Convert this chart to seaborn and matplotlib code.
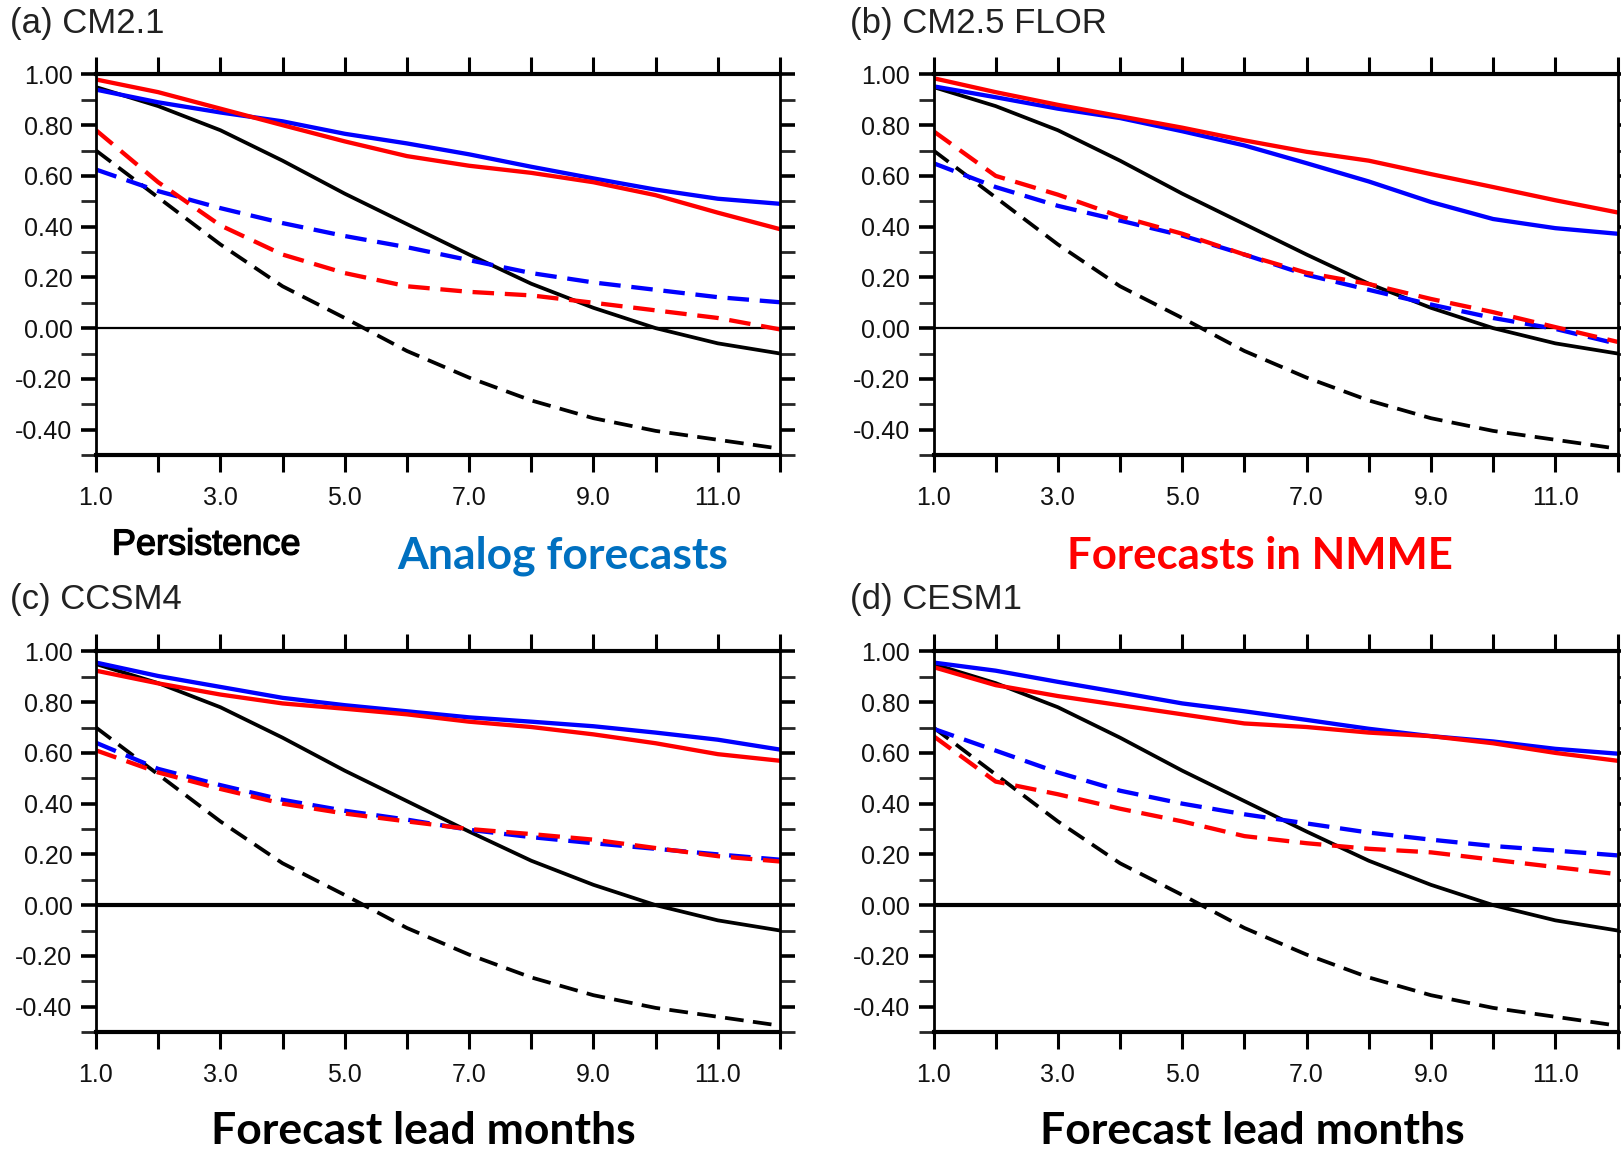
import matplotlib
matplotlib.use('Agg')
import matplotlib.pyplot as plt
import matplotlib.patheffects as pe
from matplotlib import font_manager
from matplotlib.ticker import FixedLocator
import seaborn as sns
import pandas as pd

sns.set_theme(style='ticks')

installed = {f.name for f in font_manager.fontManager.ttflist}
NARROW = 'Liberation Sans Narrow' if 'Liberation Sans Narrow' in installed else 'Liberation Sans'
plt.rcParams['font.family'] = ['Liberation Sans', 'DejaVu Sans']

# ── Data ────────────────────────────────────────────────
LEADS = list(range(1, 13))

PERSIST_SOLID = [0.95, 0.875, 0.78, 0.66, 0.53, 0.41, 0.29, 0.175, 0.08, 0.0, -0.06, -0.10]
PERSIST_DASH = [0.70, 0.515, 0.33, 0.165, 0.04, -0.09, -0.195, -0.285, -0.355, -0.405, -0.44, -0.475]

CM21_ANALOG_SOLID = [0.94, 0.89, 0.85, 0.815, 0.766, 0.728, 0.685, 0.636, 0.59, 0.546, 0.51, 0.49]
CM21_NMME_SOLID = [0.98, 0.93, 0.865, 0.80, 0.736, 0.678, 0.64, 0.612, 0.575, 0.524, 0.455, 0.39]
CM21_ANALOG_DASH = [0.625, 0.54, 0.473, 0.414, 0.363, 0.319, 0.268, 0.217, 0.18, 0.151, 0.122, 0.102]
CM21_NMME_DASH = [0.78, 0.575, 0.405, 0.29, 0.217, 0.165, 0.143, 0.129, 0.10, 0.07, 0.04, -0.005]

FLOR_ANALOG_SOLID = [0.953, 0.91, 0.865, 0.828, 0.776, 0.72, 0.65, 0.578, 0.497, 0.43, 0.394, 0.372]
FLOR_NMME_SOLID = [0.985, 0.93, 0.88, 0.835, 0.79, 0.74, 0.695, 0.66, 0.607, 0.556, 0.504, 0.456]
FLOR_ANALOG_DASH = [0.65, 0.556, 0.482, 0.424, 0.365, 0.29, 0.21, 0.151, 0.093, 0.04, -0.003, -0.062]
FLOR_NMME_DASH = [0.776, 0.60, 0.526, 0.44, 0.372, 0.29, 0.218, 0.174, 0.115, 0.063, 0.004, -0.054]

CCSM4_ANALOG_SOLID = [0.956, 0.903, 0.86, 0.817, 0.788, 0.764, 0.74, 0.723, 0.705, 0.68, 0.652, 0.613]
CCSM4_NMME_SOLID = [0.924, 0.874, 0.83, 0.795, 0.774, 0.752, 0.723, 0.702, 0.673, 0.638, 0.595, 0.569]
CCSM4_ANALOG_DASH = [0.64, 0.537, 0.473, 0.415, 0.372, 0.337, 0.297, 0.268, 0.244, 0.222, 0.20, 0.179]
CCSM4_NMME_DASH = [0.61, 0.523, 0.458, 0.40, 0.361, 0.33, 0.30, 0.28, 0.258, 0.225, 0.193, 0.172]

CESM1_ANALOG_SOLID = [0.956, 0.924, 0.88, 0.838, 0.795, 0.764, 0.73, 0.695, 0.666, 0.645, 0.616, 0.597]
CESM1_NMME_SOLID = [0.938, 0.867, 0.824, 0.788, 0.752, 0.716, 0.702, 0.68, 0.666, 0.638, 0.60, 0.569]
CESM1_ANALOG_DASH = [0.695, 0.609, 0.523, 0.451, 0.40, 0.358, 0.322, 0.286, 0.258, 0.233, 0.215, 0.196]
CESM1_NMME_DASH = [0.666, 0.487, 0.437, 0.38, 0.33, 0.272, 0.244, 0.222, 0.208, 0.179, 0.15, 0.122]

PANEL_TITLES = ['(a) CM2.1', '(b) CM2.5 FLOR', '(c) CCSM4', '(d) CESM1']
PANEL_DATA = [
    (CM21_ANALOG_SOLID, CM21_NMME_SOLID, CM21_ANALOG_DASH, CM21_NMME_DASH),
    (FLOR_ANALOG_SOLID, FLOR_NMME_SOLID, FLOR_ANALOG_DASH, FLOR_NMME_DASH),
    (CCSM4_ANALOG_SOLID, CCSM4_NMME_SOLID, CCSM4_ANALOG_DASH, CCSM4_NMME_DASH),
    (CESM1_ANALOG_SOLID, CESM1_NMME_SOLID, CESM1_ANALOG_DASH, CESM1_NMME_DASH),
]
X_LABELS = ['1.0', '', '3.0', '', '5.0', '', '7.0', '', '9.0', '', '11.0', '']
Y_MAJOR = [-0.4, -0.2, 0.0, 0.2, 0.4, 0.6, 0.8, 1.0]
Y_MINOR = [-0.5, -0.3, -0.1, 0.1, 0.3, 0.5, 0.7, 0.9]

# ── Layout ──────────────────────────────────────────────
W, H = 1621, 1151
fig = plt.figure(figsize=(W / 100, H / 100), dpi=100)

ax_left = [96 / W, 933.5 / W]
ax_bottom = [1 - 455 / H, 1 - 1032 / H]
ax_w, ax_h = 684 / W, 380.6 / H

DASH = (0, (5, 2.5))
BIG_FONT = ['Lato', 'Open Sans', 'DejaVu Sans']


def draw_panel(ax, series, zero_lw):
    a_solid, n_solid, a_dash, n_dash = series
    lines = [
        (PERSIST_SOLID, 'black', '-', 2.7),
        (PERSIST_DASH, 'black', DASH, 2.7),
        (a_solid, '#0000ff', '-', 3.1),
        (a_dash, '#0000ff', DASH, 3.1),
        (n_solid, '#ff0000', '-', 3.1),
        (n_dash, '#ff0000', DASH, 3.1),
    ]
    for vals, col, ls, lw in lines:
        df = pd.DataFrame({'lead': LEADS, 'acc': vals})
        sns.lineplot(data=df, x='lead', y='acc', ax=ax, color=col,
                     linestyle=ls, linewidth=lw, errorbar=None)
    ax.axhline(0, color='black', lw=zero_lw, zorder=1)

    ax.set_xlim(1, 12)
    ax.set_ylim(-0.5, 1.0)
    ax.set_xlabel('')
    ax.set_ylabel('')

    ax.set_xticks(LEADS)
    ax.set_xticklabels(X_LABELS)
    ax.yaxis.set_major_locator(FixedLocator(Y_MAJOR))
    ax.yaxis.set_minor_locator(FixedLocator(Y_MINOR))
    ax.set_yticklabels([f'{v:.2f}' for v in Y_MAJOR])

    ax.tick_params(axis='x', which='major', direction='out', top=True, bottom=True,
                   length=12, width=2.2, pad=10, colors='black')
    ax.tick_params(axis='y', which='major', direction='out', left=True, right=True,
                   length=11, width=2.6, pad=6, colors='black')
    ax.tick_params(axis='y', which='minor', direction='out', left=True, right=True,
                   length=11, width=2.0)
    for lab in ax.get_xticklabels() + ax.get_yticklabels():
        lab.set_fontfamily(NARROW)
        lab.set_fontsize(18)
        lab.set_color('#111111')

    for side in ['top', 'bottom']:
        ax.spines[side].set_linewidth(3.0)
    for side in ['left', 'right']:
        ax.spines[side].set_linewidth(2.0)
    for sp in ax.spines.values():
        sp.set_color('black')
        sp.set_visible(True)


zero_widths = [1.6, 1.6, 3.0, 3.0]
for i, (title, series) in enumerate(zip(PANEL_TITLES, PANEL_DATA)):
    row, col = divmod(i, 2)
    ax = fig.add_axes([ax_left[col], ax_bottom[row], ax_w, ax_h])
    ax.set_facecolor('white')
    draw_panel(ax, series, zero_widths[i])

# ── Panel titles ────────────────────────────────────────
title_pos = [(10, 23), (850, 23), (10, 600), (850, 600)]
for title, (px, py) in zip(PANEL_TITLES, title_pos):
    fig.text(px / W, 1 - py / H, title, ha='left', va='center',
             fontsize=25, color='#222222', family=NARROW)

# ── Annotations ─────────────────────────────────────────
fig.text(206 / W, 1 - 545 / H, 'Persistence', ha='center', va='center',
         fontsize=26, family='Liberation Sans', color='black',
         path_effects=[pe.withStroke(linewidth=1.0, foreground='black')])
fig.text(563 / W, 1 - 556 / H, 'Analog forecasts', ha='center', va='center',
         fontsize=32, fontweight='bold', family=BIG_FONT, color='#0070c0')
fig.text(1260 / W, 1 - 556 / H, 'Forecasts in NMME', ha='center', va='center',
         fontsize=31.5, fontweight='bold', family=BIG_FONT, color='#ff0000')
for cx in [423, 1252]:
    fig.text(cx / W, 1 - 1131 / H, 'Forecast lead months', ha='center', va='center',
             fontsize=32, fontweight='bold', family=BIG_FONT, color='black')

fig.savefig('out.png', dpi=100, facecolor='white')
plt.close()
